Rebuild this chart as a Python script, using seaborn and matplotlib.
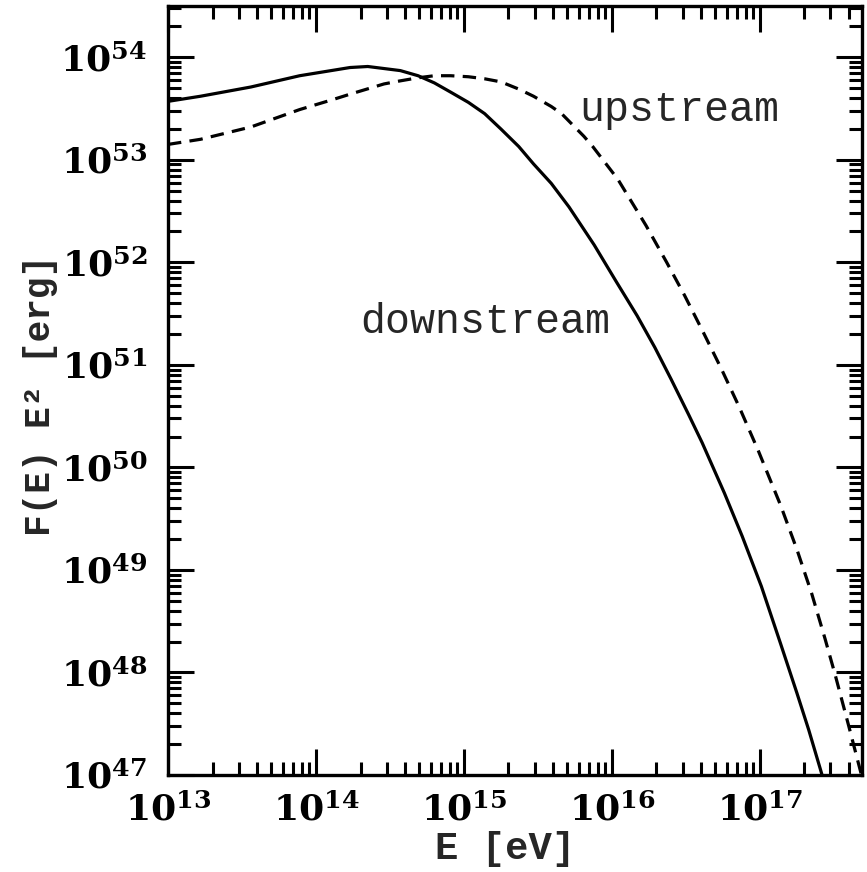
import numpy as np
import pandas as pd
import matplotlib
matplotlib.use("Agg")
import matplotlib.pyplot as plt
import seaborn as sns

# values, as log10(E) and log10(F E^2)
down_logE = [13.00, 13.22, 13.56, 13.89, 14.23, 14.35, 14.46, 14.57, 14.69, 14.80,
             14.91, 15.03, 15.14, 15.25, 15.37, 15.47, 15.59, 15.71, 15.88, 16.03,
             16.17, 16.29, 16.40, 16.52, 16.61, 16.76, 16.88, 17.01, 17.14, 17.25,
             17.33, 17.41, 17.45]
down_logF = [53.57, 53.62, 53.71, 53.82, 53.90, 53.91, 53.89, 53.87, 53.82, 53.75,
             53.66, 53.56, 53.45, 53.30, 53.13, 52.96, 52.77, 52.54, 52.17, 51.81,
             51.48, 51.17, 50.86, 50.51, 50.24, 49.75, 49.33, 48.84, 48.28, 47.80,
             47.44, 47.05, 46.85]

up_logE = [13.00, 13.22, 13.56, 13.89, 14.12, 14.23, 14.46, 14.57, 14.69, 14.80,
           14.91, 15.03, 15.14, 15.25, 15.37, 15.47, 15.59, 15.66, 15.81, 15.87,
           16.04, 16.23, 16.37, 16.49, 16.62, 16.74, 16.86, 16.99, 17.14, 17.25,
           17.35, 17.44, 17.51, 17.60, 17.69]
up_logF = [53.15, 53.20, 53.32, 53.49, 53.59, 53.64, 53.74, 53.77, 53.80, 53.82,
           53.82, 53.81, 53.79, 53.76, 53.69, 53.62, 53.52, 53.45, 53.23, 53.13,
           52.81, 52.36, 52.00, 51.68, 51.31, 50.96, 50.59, 50.16, 49.63, 49.20,
           48.77, 48.33, 47.97, 47.48, 46.98]

x_ticks = [1e13, 1e14, 1e15, 1e16, 1e17]
x_tick_labels = [r"$\mathbf{10^{13}}$", r"$\mathbf{10^{14}}$", r"$\mathbf{10^{15}}$",
                 r"$\mathbf{10^{16}}$", r"$\mathbf{10^{17}}$"]
y_ticks = [1e47, 1e48, 1e49, 1e50, 1e51, 1e52, 1e53, 1e54]
y_tick_labels = [r"$\mathbf{10^{%d}}$" % k for k in range(47, 55)]

down = pd.DataFrame({"E": 10.0 ** np.array(down_logE), "F": 10.0 ** np.array(down_logF)})
up = pd.DataFrame({"E": 10.0 ** np.array(up_logE), "F": 10.0 ** np.array(up_logF)})

sns.set_style("ticks")
plt.rcParams["mathtext.fontset"] = "dejavuserif"

fig = plt.figure(figsize=(8.67, 8.72), dpi=100)
ax = fig.add_axes([168 / 867, 97 / 872, 694 / 867, 769 / 872])

sns.lineplot(data=down, x="E", y="F", ax=ax, color="black", linewidth=2.3,
             estimator=None, sort=False)
sns.lineplot(data=up, x="E", y="F", ax=ax, color="black", linewidth=2.3,
             estimator=None, sort=False, linestyle=(0, (4.2, 2.6)))

ax.set_xscale("log")
ax.set_yscale("log")
ax.set_xlim(1e13, 10 ** 17.69)
ax.set_ylim(1e47, 10 ** 54.5)

ax.set_xticks(x_ticks, labels=x_tick_labels)
ax.set_yticks(y_ticks, labels=y_tick_labels)
ax.xaxis.set_minor_locator(matplotlib.ticker.LogLocator(base=10, subs=np.arange(2, 10), numticks=20))
ax.yaxis.set_minor_locator(matplotlib.ticker.LogLocator(base=10, subs=np.arange(2, 10), numticks=20))
ax.xaxis.set_minor_formatter(matplotlib.ticker.NullFormatter())
ax.yaxis.set_minor_formatter(matplotlib.ticker.NullFormatter())

ax.tick_params(which="both", direction="in", top=True, right=True, width=2.2, colors="black")
ax.tick_params(which="major", length=18.5, labelsize=26)
ax.tick_params(which="minor", length=9.5)
ax.tick_params(axis="x", which="major", pad=13)
ax.tick_params(axis="y", which="major", pad=15)
for s in ax.spines.values():
    s.set_linewidth(2.4)
    s.set_color("black")

ax.set_xlabel("E [eV]", fontsize=28, fontfamily="Liberation Mono", fontweight="bold")
ax.xaxis.set_label_coords((505 - 168) / 694, -(849 - 775) / 769)
ax.xaxis.label.set_va("center")
ax.set_ylabel("F(E) E² [erg]", fontsize=26, fontfamily="Liberation Mono", fontweight="bold")
ax.yaxis.set_label_coords(-(168 - 41) / 694, (775 - 395) / 769)
ax.yaxis.label.set_va("center")

ax.text(10 ** 15.78, 10 ** 53.49, "upstream", fontsize=30, fontfamily="Liberation Mono",
        ha="left", va="center")
ax.text(10 ** 14.30, 10 ** 51.42, "downstream", fontsize=30, fontfamily="Liberation Mono",
        ha="left", va="center")

plt.savefig("out.png", dpi=100)
